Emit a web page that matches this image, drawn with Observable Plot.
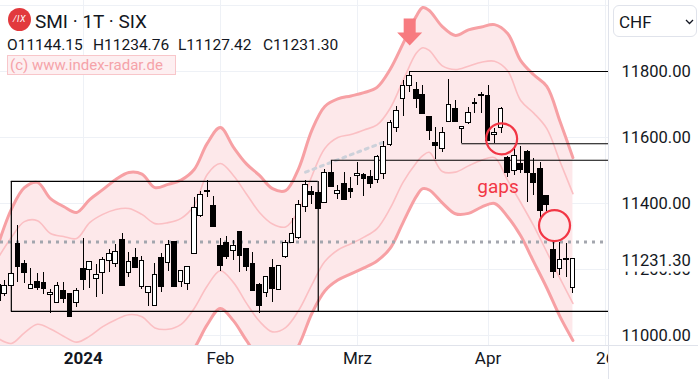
<!DOCTYPE html>
<html><head><meta charset="utf-8">
<script src="https://cdn.jsdelivr.net/npm/d3@7"></script>
<script src="https://cdn.jsdelivr.net/npm/@observablehq/plot@0.6"></script>
<style>
body{margin:0;background:#fff;}
#wrap{position:relative;width:698px;height:379px;overflow:hidden;font-family:Roboto,"Noto Sans",sans-serif;color:#131722;}
#wrap svg{display:block;}
.ov{position:absolute;white-space:nowrap;line-height:1;}
.logo{left:8px;top:8px;width:23px;height:23px;border-radius:50%;background:#e2393d;color:#fff;font-size:9px;font-style:italic;display:flex;align-items:center;justify-content:center;letter-spacing:0.5px;}
.title{left:35px;top:11.5px;font-size:19px;}
.ohlc{left:0;top:0;width:400px;height:60px;}
.ohlc span{position:absolute;top:37.5px;font-size:15.5px;}
.wm{left:7px;top:55px;width:165px;height:18px;border:1px solid #f8c6ca;background:#fdeff1;color:#f5a3a9;font-size:15px;line-height:18px;padding-left:2px;}
.chf{left:613px;top:5px;width:82px;height:30px;border:1px solid #e0e3eb;border-radius:6px;font-size:17px;}
.chf span{position:absolute;left:5px;top:8px;}
.chf svg{position:absolute;left:71px;top:13px;}
</style></head><body>
<div id="wrap"></div>
<script>
// ---- candle data (daily, index 0 = 11 Dec 2023 ... 88 = 19 Apr 2024)
const candleOpen  = [11106,11126,11150,11276,11217,11141,11163,11160,11124,11099,11135,11126,11099,11202,11200,11172,11190,11226,11217,11290,11190,11235,11146,11129,11090,11235,11220,11282,11161,11157,11248,11361,11439,11393,11270,11279,11255,11314,11263,11217,11152,11130,11206,11139,11237,11281,11295,11389,11436,11432,11402,11493,11429,11458,11445,11483,11487,11480,11470,11490,11578,11629,11717,11755,11745,11729,11661,11584,11566,11648,11687,11626,11645,11700,11725,11727,11608,11629,11538,11498,11520,11555,11490,11505,11422,11260,11202,11232,11144.15];
const candleHigh  = [11167,11167,11191,11333,11227,11202,11189,11191,11139,11160,11160,11126,11141,11294,11224,11215,11237,11260,11276,11308,11252,11263,11238,11148,11217,11250,11288,11283,11197,11209,11417,11436,11470,11421,11293,11300,11288,11315,11264,11253,11157,11179,11230,11212,11289,11356,11409,11471,11451,11440,11503,11531,11455,11495,11480,11525,11490,11500,11545,11588,11651,11695,11773,11800,11767,11757,11664,11630,11631,11776,11712,11634,11692,11719,11735,11757,11628,11692,11543,11571,11574,11561,11535,11525,11423,11288,11283,11278,11234.76];
const candleLow   = [11067,11119,11136,11161,11157,11139,11136,11123,11066,11096,11096,11055,11086,11136,11141,11114,11124,11192,11206,11149,11175,11202,11139,11089,11089,11129,11195,11145,11146,11136,11247,11357,11419,11327,11195,11230,11227,11192,11194,11134,11066,11114,11101,11138,11232,11280,11291,11374,11396,11383,11401,11448,11411,11410,11414,11455,11421,11445,11460,11473,11574,11616,11664,11737,11687,11671,11591,11532,11555,11647,11646,11581,11639,11672,11672,11588,11581,11613,11480,11485,11490,11404,11424,11354,11377,11172,11182,11175,11127.42];
const candleClose = [11152,11149,11187,11207,11189,11153,11144,11140,11130,11149,11110,11055,11135,11167,11222,11184,11229,11248,11254,11149,11222,11205,11226,11146,11184,11146,11273,11146,11196,11208,11387,11426,11435,11328,11210,11237,11271,11240,11207,11135,11090,11177,11141,11211,11280,11308,11396,11455,11426,11384,11493,11449,11437,11411,11434,11490,11473,11460,11540,11571,11645,11680,11757,11786,11716,11672,11620,11573,11614,11699,11648,11633,11675,11704,11729,11589,11614,11687,11493,11543,11502,11493,11463,11377,11394,11192,11229,11228,11231.30];

// ---- envelope bands (read at these bar indices)
const bandIdx    = [0,2,4,6,8,10,12,14,16,18,20,22,24,26,28,30,32,34,36,38,40,42,44,46,48,50,52,54,56,58,60,62,64,65,66,68,70,72,74,76,78,80,82,84,86,88];
const upperOuter = [11276,11382,11448,11464,11415,11391,11373,11412,11442,11473,11494,11489,11448,11458,11471,11503,11582,11630,11571,11520,11485,11445,11439,11506,11621,11694,11717,11726,11736,11752,11806,11885,11967,11994,11985,11936,11909,11926,11935,11942,11915,11833,11790,11755,11650,11539];
const upperInner = [11236,11297,11345,11348,11309,11300,11294,11342,11367,11382,11385,11367,11339,11342,11355,11394,11488,11521,11485,11429,11373,11338,11329,11379,11482,11567,11600,11609,11623,11638,11688,11773,11855,11872,11864,11817,11806,11816,11828,11831,11802,11712,11674,11627,11528,11430];
const lowerInner = [10991,10976,11008,11034,11020,10998,10980,10998,11027,11048,11063,11057,11023,11019,11034,11082,11150,11196,11161,11098,11043,11011,11024,11076,11153,11224,11259,11278,11298,11324,11385,11465,11523,11545,11555,11497,11495,11514,11531,11539,11470,11403,11332,11253,11174,11097];
const lowerOuter = [10952,10891,10906,10918,10914,10906,10900,10929,10952,10958,10955,10935,10915,10904,10918,10961,11033,11082,11045,10985,10930,10903,10915,10970,11066,11135,11168,11187,11205,11226,11264,11343,11421,11445,11441,11402,11369,11370,11389,11400,11360,11302,11223,11144,11058,10985];

// ---- drawn levels / annotations
const dottedLevel = [11283];
const trendIdx = [47.05, 59.04];
const trendPrice = [11495, 11586];
const boxFrom = [2], boxTo = [49], boxTop = [11467], boxBottom = [11073];
const rayFrom  = [2, 51, 63, 71];
const rayPrice = [11073, 11531, 11800, 11581];
const gapIdx = [77.08, 85.18];
const gapPrice = [11596, 11333];
const gapLabel = ["gaps"], gapLabelIdx = [76.53], gapLabelPrice = [11451];
const arrowIdx = [63], arrowPrice = [11879];

// ---- axes
const timeIdx = [13, 34, 55, 75, 93];
const timeLabels = ["2024", "Feb", "Mrz", "Apr", "26"];
const priceTicks = [11000, 11200, 11400, 11600, 11800];
const gridPrices = [11000, 11200, 11400, 11600, 11800, 12000];
const lastClose = [11231.30];

// ---- tables
const candles = candleOpen.map((o, i) => ({i, open: o, high: candleHigh[i], low: candleLow[i], close: candleClose[i]}));
const bands = bandIdx.map((i, k) => ({i, uo: upperOuter[k], ui: upperInner[k], li: lowerInner[k], lo: lowerOuter[k]}));
const trend = trendIdx.map((i, k) => ({i, p: trendPrice[k]}));
const rays = rayFrom.map((f, k) => ({from: f, p: rayPrice[k]}));
const boxSides = [boxFrom[0], boxTo[0]].map(i => ({i, lo: boxBottom[0], hi: boxTop[0]}));
const boxTopLine = [{from: boxFrom[0], to: boxTo[0], p: boxTop[0]}];
const gaps = gapIdx.map((i, k) => ({i, p: gapPrice[k]}));
const gapText = gapLabel.map((t, k) => ({t, i: gapLabelIdx[k], p: gapLabelPrice[k]}));
const arrows = arrowIdx.map((i, k) => ({i, p: arrowPrice[k]}));
const ticks = timeIdx.map((i, k) => ({i, label: timeLabels[k]}));

const xMax = 93.6;
const arrowSymbol = {draw(ctx) {
  ctx.moveTo(-6, -27); ctx.lineTo(6, -27); ctx.lineTo(6, -13); ctx.lineTo(12.5, -13);
  ctx.lineTo(0, 0); ctx.lineTo(-12.5, -13); ctx.lineTo(-6, -13); ctx.closePath();
}};
const BODY = 0.36;

const chart = Plot.plot({
  width: 698, height: 379,
  marginLeft: 0, marginRight: 89, marginTop: 0, marginBottom: 34,
  x: {domain: [0.3415, xMax], axis: null},
  y: {domain: [10969.7, 12015.15], axis: null},
  style: {fontFamily: "Roboto, 'Noto Sans', sans-serif", background: "#fff", color: "#131722"},
  marks: [
    Plot.ruleY(gridPrices, {y: d => d, stroke: "#eef1f6", strokeWidth: 1, shapeRendering: "crispEdges"}),
    Plot.ruleX(ticks, {x: "i", stroke: "#eef1f6", strokeWidth: 1, shapeRendering: "crispEdges"}),
    Plot.areaY(bands, {x: "i", y1: "lo", y2: "uo", fill: "#fde8ea", curve: "catmull-rom", clip: true}),
    Plot.line(bands, {x: "i", y: "ui", stroke: "#fbbfc3", strokeWidth: 1.6, curve: "catmull-rom", clip: true}),
    Plot.line(bands, {x: "i", y: "li", stroke: "#fbbfc3", strokeWidth: 1.6, curve: "catmull-rom", clip: true}),
    Plot.line(bands, {x: "i", y: "uo", stroke: "#f7a0a4", strokeWidth: 3, curve: "catmull-rom", clip: true}),
    Plot.line(bands, {x: "i", y: "lo", stroke: "#f7a0a4", strokeWidth: 3, curve: "catmull-rom", clip: true}),
    Plot.ruleY(dottedLevel, {y: d => d, stroke: "#a3a6ae", strokeWidth: 3, strokeDasharray: "3,5"}),
    Plot.line(trend, {x: "i", y: "p", stroke: "#cdd1da", strokeWidth: 3, strokeDasharray: "3,5"}),
    Plot.ruleY(boxTopLine, {y: "p", x1: "from", x2: "to", stroke: "#000", strokeWidth: 1.2}),
    Plot.ruleX(boxSides, {x: "i", y1: "lo", y2: "hi", stroke: "#000", strokeWidth: 1.2}),
    Plot.ruleY(rays, {y: "p", x1: "from", x2: () => xMax, stroke: "#000", strokeWidth: 1.2}),
    Plot.ruleX(candles, {x: "i", y1: "low", y2: "high", stroke: "#000", strokeWidth: 1, shapeRendering: "crispEdges"}),
    Plot.rect(candles, {x1: d => d.i - BODY, x2: d => d.i + BODY, y1: "open", y2: "close",
      fill: d => d.close >= d.open ? "#fff" : "#000", stroke: "#000", strokeWidth: 1, shapeRendering: "crispEdges"}),
    Plot.dot(gaps, {x: "i", y: "p", r: 15.5, stroke: "#f23645", strokeWidth: 2.2, fill: "none"}),
    Plot.text(gapText, {x: "i", y: "p", text: "t", fill: "#f23645", fontSize: 19}),
    Plot.dot(arrows, {x: "i", y: "p", symbol: arrowSymbol, fill: "#f77b80", stroke: "none", r: 10}),
    Plot.text(ticks.slice(0, 1), {x: "i", text: "label", frameAnchor: "bottom", dy: 18, fontSize: 17, fontWeight: "bold", fill: "#131722"}),
    Plot.text(ticks.slice(1), {x: "i", text: "label", frameAnchor: "bottom", dy: 18, fontSize: 17, fill: "#131722"}),
    Plot.text(priceTicks, {y: d => d, text: d => d.toFixed(2), frameAnchor: "right", textAnchor: "start", dx: 12, fontSize: 16.5, fill: "#131722"}),
    Plot.text(lastClose, {y: d => d, text: d => d.toFixed(2), frameAnchor: "right", textAnchor: "start", dx: 12, dy: 2, fontSize: 16.5, fill: "#131722"})
  ]
});

document.getElementById("wrap").appendChild(chart);

// ---- chrome: price panel, separators, last price box
const ns = "http://www.w3.org/2000/svg";
const mk = (tag, a) => { const e = document.createElementNS(ns, tag); for (const k in a) e.setAttribute(k, a[k]); return e; };
const groupOf = (txt) => {
  const t = Array.from(chart.querySelectorAll("text")).find(n => n.textContent === txt);
  return t ? t.closest("g") : null;
};
const priceG = groupOf(priceTicks[0].toFixed(2));
const lastG = groupOf(lastClose[0].toFixed(2));
if (priceG && lastG) {
  const par = priceG.parentNode;
  par.insertBefore(mk("rect", {x: 609, y: 0, width: 89, height: 379, fill: "#fff"}), priceG);
  par.insertBefore(mk("line", {x1: 608.5, x2: 608.5, y1: 0, y2: 379, stroke: "#e0e3eb"}), priceG);
  par.insertBefore(mk("line", {x1: 0, x2: 698, y1: 345.5, y2: 345.5, stroke: "#e0e3eb"}), priceG);
  const yl = chart.scale("y").apply(lastClose[0]);
  lastG.parentNode.insertBefore(mk("rect", {x: 609, y: yl - 10, width: 89, height: 23, fill: "#fff"}), lastG);
}

// ---- header overlays
const wrap = document.getElementById("wrap");
const add = (cls, html) => { const d = document.createElement("div"); d.className = "ov " + cls; d.innerHTML = html; wrap.appendChild(d); return d; };
add("logo", "/IX");
add("title", "SMI · 1T · SIX");
const last = candles[candles.length - 1];
const ohlcVals = [["O", last.open], ["H", last.high], ["L", last.low], ["C", last.close]];
const ohlcX = [7, 93, 178, 263];
add("ohlc", ohlcVals.map((v, k) => `<span style="left:${ohlcX[k]}px">${v[0]}${v[1].toFixed(2)}</span>`).join(""));
add("wm", "(c) www.index-radar.de");
add("chf", '<span>CHF</span><svg width="9" height="6"><path d="M1 1 L4.5 4.5 L8 1" fill="none" stroke="#131722" stroke-width="1.3"/></svg>');
</script>
</body></html>
